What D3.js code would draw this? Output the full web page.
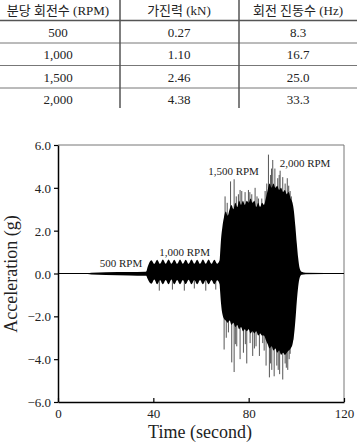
<!DOCTYPE html>
<html lang="ko">
<head>
    <meta charset="UTF-8">
    <title>Acceleration record</title>
    <script src="https://d3js.org/d3.v7.min.js"></script>
    <style>
        body { margin: 0; background: #fff; }
        text { font-family: "Liberation Serif", "Noto Sans CJK KR", serif; fill: #222; }
        .tbl text { font-size: 13px; }
        .tick text { font-size: 13px; }
        .rpm { font-size: 11px; }
        .title { font-size: 18px; }
    </style>
</head>
<body>
    <svg width="357" height="442"></svg>
    <script>
        // 표 데이터
        var tableHeaders = ["분당 회전수 (RPM)", "가진력 (kN)", "회전 진동수 (Hz)"];
        var rpmLabels = ["500", "1,000", "1,500", "2,000"];
        var forceKN = ["0.27", "1.10", "2.46", "4.38"];
        var freqHz = ["8.3", "16.7", "25.0", "33.3"];

        // 가속도 기록의 포락선
        var envT  = [0, 8, 12.5, 14, 20, 30, 36.5, 37.0, 37.6, 38.3,
                     39.2, 40.4, 41.6, 42.8, 44.0, 45.2, 46.4, 47.6, 48.8, 50.0,
                     51.2, 52.4, 53.6, 54.8, 56.0, 57.2, 58.4, 59.6, 60.8, 62.0,
                     63.2, 64.4, 65.6, 66.8, 67.8,
                     68.0, 68.4, 69.0, 69.6, 70.4, 71.2, 72.0, 72.8, 73.6, 74.4,
                     75.2, 76.0, 76.8, 77.6, 78.4, 79.2, 80.0, 80.8, 81.6, 82.4,
                     83.2, 84.0, 84.8, 85.6, 86.4, 87.2, 88.0, 88.8, 89.6, 90.4,
                     91.2, 92.0, 92.8, 93.6, 94.4, 95.2, 96.0, 96.8, 97.6, 98.4,
                     99.0, 99.6, 100.2, 100.8, 101.4, 102.2, 104, 120];
        var envUp = [0.01, 0.01, 0.02, 0.04, 0.06, 0.07, 0.08, 0.09, 0.3, 0.5,
                     0.62, 0.45, 0.64, 0.45, 0.65, 0.46, 0.65, 0.46, 0.64, 0.45,
                     0.65, 0.46, 0.64, 0.45, 0.65, 0.46, 0.64, 0.45, 0.65, 0.46,
                     0.65, 0.45, 0.64, 0.46, 0.62,
                     0.9, 1.6, 2.2, 2.6, 2.9, 2.7, 3.0, 3.2, 3.0, 3.3,
                     3.1, 3.4, 3.2, 3.4, 3.2, 3.4, 3.3, 3.5, 3.3, 3.4,
                     3.1, 3.3, 3.1, 3.3, 3.2, 3.5, 3.9, 4.2, 4.0, 4.2,
                     4.0, 4.1, 3.9, 4.0, 3.8, 3.9, 3.7, 3.8, 3.5, 3.3,
                     2.9, 2.2, 1.4, 0.7, 0.25, 0.08, 0.03, 0.02];
        var envLo = [-0.01, -0.01, -0.02, -0.05, -0.07, -0.09, -0.1, -0.1, -0.25, -0.4,
                     -0.48, -0.28, -0.5, -0.3, -0.5, -0.3, -0.5, -0.28, -0.5, -0.3,
                     -0.5, -0.3, -0.49, -0.29, -0.5, -0.3, -0.5, -0.3, -0.5, -0.3,
                     -0.5, -0.3, -0.5, -0.32, -0.5,
                     -0.8, -1.4, -1.9, -2.1, -2.2, -2.3, -2.2, -2.4, -2.3, -2.5,
                     -2.4, -2.6, -2.5, -2.7, -2.6, -2.7, -2.6, -2.8, -2.7, -2.8,
                     -2.7, -2.9, -2.8, -2.9, -2.9, -3.1, -3.3, -3.5, -3.4, -3.6,
                     -3.5, -3.7, -3.6, -3.8, -3.7, -3.8, -3.7, -3.6, -3.5, -3.3,
                     -2.9, -2.2, -1.3, -0.6, -0.2, -0.06, -0.03, -0.02];

        // 피크 스파이크
        var spikeT = [42.5, 48.0, 53.0, 57.2, 62.0, 66.2,
                      70.1, 71.0, 72.4, 73.9, 74.8, 75.7, 76.4, 77.1, 78.5, 79.9,
                      80.5, 81.3, 82.7, 83.5, 84.1, 85.5, 86.9, 87.6, 88.3, 89.2,
                      89.6, 90.1, 91.0, 92.2, 92.8, 93.2, 94.3, 95.3, 96.2, 96.8,
                      97.4, 97.9, 98.4,
                      69.7, 70.6, 71.5, 72.9, 73.9, 74.4, 75.0, 76.4, 77.8, 78.6,
                      79.2, 80.6, 81.7, 82.4, 83.1, 84.5, 85.9, 86.5, 87.3, 88.7,
                      89.2, 89.7, 90.7, 91.8, 92.4, 93.0, 94.3, 95.3, 95.8, 96.4,
                      97.0, 97.4, 98.5];
        var spikeV = [-0.8, -0.75, -0.8, -0.7, -0.8, -0.75,
                      3.6, 3.3, 4.3, 4.4, 3.6, 3.7, 3.9, 3.85, 3.8, 3.9,
                      3.8, 3.7, 4.0, 3.6, 3.5, 3.5, 3.85, 4.2, 5.55, 4.6,
                      4.9, 5.3, 4.9, 4.45, 4.6, 4.8, 4.5, 4.2, 4.45, 4.1,
                      3.85, 3.6, 3.2,
                      -3.55, -3.0, -2.75, -4.15, -4.6, -3.3, -3.4, -4.0, -3.7, -3.3,
                      -4.2, -3.25, -3.85, -3.5, -3.4, -3.85, -3.25, -3.6, -4.3, -4.85,
                      -4.2, -4.5, -4.8, -4.3, -4.5, -4.7, -4.95, -4.2, -4.4, -4.5,
                      -4.0, -3.75, -3.1];

        var rpmNotes = ["500 RPM", "1,000 RPM", "1,500 RPM", "2,000 RPM"];
        var noteT = [17.5, 42.5, 63.0, 93.0];
        var noteV = [0.32, 0.83, 4.6, 4.95];

        var xTicks = [0, 40, 80, 120];
        var yTicks = [-6, -4, -2, 0, 2, 4, 6];

        var svg = d3.select("svg");

        // ---- 표 ----
        var tbl = svg.append("g").attr("class", "tbl");
        var colX = [58, 179, 298];
        var rowY = [32, 54.5, 77, 99.5];

        tbl.append("line")
            .attr("x1", 0).attr("x2", 357).attr("y1", 20.5).attr("y2", 20.5)
            .attr("stroke", "#555").attr("stroke-width", 1.5);
        [43, 65.5, 88].forEach(function(y) {
            tbl.append("line")
                .attr("x1", 0).attr("x2", 357).attr("y1", y).attr("y2", y)
                .attr("stroke", "#777").attr("stroke-width", 1);
        });
        [120, 239].forEach(function(x) {
            tbl.append("line")
                .attr("x1", x).attr("x2", x).attr("y1", 0).attr("y2", 108)
                .attr("stroke", "#555").attr("stroke-width", 1.5);
        });

        tbl.selectAll(".hd")
            .data(tableHeaders)
            .enter()
            .append("text")
            .attr("x", function(d, i) { return colX[i]; })
            .attr("y", 14.5)
            .attr("text-anchor", "middle")
            .text(function(d) { return d; });

        [rpmLabels, forceKN, freqHz].forEach(function(col, ci) {
            tbl.selectAll(".c" + ci)
                .data(col)
                .enter()
                .append("text")
                .attr("x", colX[ci])
                .attr("y", function(d, i) { return rowY[i] + 4.5; })
                .attr("text-anchor", "middle")
                .text(function(d) { return d; });
        });

        // ---- 가속도 그래프 ----
        var x = d3.scaleLinear().domain([0, 120]).range([58, 344]);
        var y = d3.scaleLinear().domain([-6, 6]).range([402, 145]);

        var plot = svg.append("g");

        // 상단, 우측 테두리
        plot.append("path")
            .attr("d", "M58,145H344V402")
            .attr("fill", "none")
            .attr("stroke", "#777")
            .attr("stroke-width", 1);

        plot.append("line")
            .attr("x1", x(0)).attr("x2", x(120))
            .attr("y1", y(0)).attr("y2", y(0))
            .attr("stroke", "#000").attr("stroke-width", 1);

        plot.selectAll(".spike")
            .data(spikeT)
            .enter()
            .append("line")
            .attr("x1", function(d) { return x(d); })
            .attr("x2", function(d) { return x(d); })
            .attr("y1", y(0))
            .attr("y2", function(d, i) { return y(spikeV[i]); })
            .attr("stroke", "#555")
            .attr("stroke-width", 1);

        var env = envT.map(function(t, i) { return {t: t, up: envUp[i], lo: envLo[i]}; });
        var area = d3.area()
            .x(function(d) { return x(d.t); })
            .y0(function(d) { return y(d.lo); })
            .y1(function(d) { return y(d.up); })
            .curve(d3.curveMonotoneX);

        plot.append("path")
            .datum(env)
            .attr("d", area)
            .attr("fill", "#000");

        plot.selectAll(".rpm")
            .data(rpmNotes)
            .enter()
            .append("text")
            .attr("class", "rpm")
            .attr("x", function(d, i) { return x(noteT[i]); })
            .attr("y", function(d, i) { return y(noteV[i]); })
            .text(function(d) { return d; });

        // 축
        var xAxis = d3.axisBottom(x).tickValues(xTicks).tickSizeInner(-4).tickSizeOuter(0);
        var yAxis = d3.axisLeft(y).tickValues(yTicks).tickSizeInner(4).tickSizeOuter(0).tickPadding(3)
            .tickFormat(d3.format(".1f"));

        var gx = svg.append("g").attr("transform", "translate(0,402)").call(xAxis);
        var gy = svg.append("g").attr("transform", "translate(58,0)").call(yAxis);

        [gx, gy].forEach(function(g) {
            g.attr("font-family", null).attr("font-size", null);
            g.select(".domain").attr("stroke", "#000").attr("stroke-width", 1.5);
            g.selectAll(".tick line").attr("stroke", "#000").attr("stroke-width", 1.2);
            g.selectAll(".tick text").attr("fill", "#222");
        });
        gx.selectAll(".tick text").attr("y", 7);
        gy.selectAll(".tick text").attr("dy", "0.35em");

        svg.append("text")
            .attr("class", "title")
            .attr("x", 200)
            .attr("y", 438)
            .attr("text-anchor", "middle")
            .text("Time (second)");

        svg.append("text")
            .attr("class", "title")
            .attr("transform", "translate(17,274) rotate(-90)")
            .attr("text-anchor", "middle")
            .text("Acceleration (g)");
    </script>
</body>
</html>
